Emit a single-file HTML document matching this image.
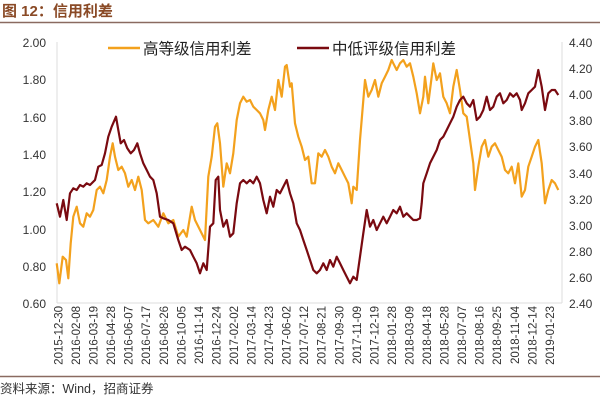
<!DOCTYPE html>
<html><head><meta charset="utf-8"><style>
body{margin:0;width:600px;height:400px;background:#fff;overflow:hidden;font-family:"Liberation Sans","Noto Sans CJK SC",sans-serif;}
</style></head><body>
<svg width="600" height="400" xmlns="http://www.w3.org/2000/svg" font-family="Liberation Sans, Noto Sans CJK SC, sans-serif">
<text x="2" y="16" font-size="15" font-weight="bold" fill="#8a4a26" font-family="Liberation Sans, Noto Sans CJK SC, sans-serif">图 12：信用利差</text>
<line x1="0" y1="22.5" x2="600" y2="22.5" stroke="#8a6a60" stroke-width="1.5"/>
<line x1="57" y1="42" x2="57" y2="303" stroke="#ddd"/>
<line x1="562" y1="42" x2="562" y2="303" stroke="#ddd"/>
<line x1="57" y1="303" x2="562" y2="303" stroke="#ddd"/>
<g font-size="12" fill="#333" text-anchor="end">
<text x="46" y="47">2.00</text><text x="46" y="84">1.80</text><text x="46" y="122">1.60</text><text x="46" y="159">1.40</text><text x="46" y="196">1.20</text><text x="46" y="234">1.00</text><text x="46" y="271">0.80</text><text x="46" y="308">0.60</text>
</g>
<g font-size="12" fill="#333">
<text x="569" y="47">4.40</text><text x="569" y="73">4.20</text><text x="569" y="99">4.00</text><text x="569" y="125">3.80</text><text x="569" y="151">3.60</text><text x="569" y="178">3.40</text><text x="569" y="204">3.20</text><text x="569" y="230">3.00</text><text x="569" y="256">2.80</text><text x="569" y="282">2.60</text><text x="569" y="308">2.40</text>
</g>
<g font-size="11.5" fill="#333" text-anchor="end">
<text transform="translate(62.5,306) rotate(-90)">2015-12-30</text>
<text transform="translate(80,306) rotate(-90)">2016-02-08</text>
<text transform="translate(97.6,306) rotate(-90)">2016-03-19</text>
<text transform="translate(115.1,306) rotate(-90)">2016-04-28</text>
<text transform="translate(132.7,306) rotate(-90)">2016-06-07</text>
<text transform="translate(150.2,306) rotate(-90)">2016-07-17</text>
<text transform="translate(167.8,306) rotate(-90)">2016-08-26</text>
<text transform="translate(185.3,306) rotate(-90)">2016-10-05</text>
<text transform="translate(202.9,306) rotate(-90)">2016-11-14</text>
<text transform="translate(220.4,306) rotate(-90)">2016-12-24</text>
<text transform="translate(238,306) rotate(-90)">2017-02-02</text>
<text transform="translate(255.5,306) rotate(-90)">2017-03-14</text>
<text transform="translate(273.1,306) rotate(-90)">2017-04-23</text>
<text transform="translate(290.6,306) rotate(-90)">2017-06-02</text>
<text transform="translate(308.2,306) rotate(-90)">2017-07-12</text>
<text transform="translate(325.7,306) rotate(-90)">2017-08-21</text>
<text transform="translate(343.3,306) rotate(-90)">2017-09-30</text>
<text transform="translate(360.8,306) rotate(-90)">2017-11-09</text>
<text transform="translate(378.4,306) rotate(-90)">2017-12-19</text>
<text transform="translate(395.9,306) rotate(-90)">2018-01-28</text>
<text transform="translate(413.5,306) rotate(-90)">2018-03-09</text>
<text transform="translate(431,306) rotate(-90)">2018-04-18</text>
<text transform="translate(448.6,306) rotate(-90)">2018-05-28</text>
<text transform="translate(466.1,306) rotate(-90)">2018-07-07</text>
<text transform="translate(483.7,306) rotate(-90)">2018-08-16</text>
<text transform="translate(501.2,306) rotate(-90)">2018-09-25</text>
<text transform="translate(518.8,306) rotate(-90)">2018-11-04</text>
<text transform="translate(536.3,306) rotate(-90)">2018-12-14</text>
<text transform="translate(553.9,306) rotate(-90)">2019-01-23</text>
</g>
<polyline fill="none" stroke="#f3a11d" stroke-width="2.2" stroke-linejoin="round" points="56.7,263.3 59.3,283.3 62.7,256.7 66,260 68.3,278.3 70.7,243.3 73.3,216.7 76.7,206.7 80,223.3 83.3,226.7 86.7,213.3 90,216.7 93.3,210 96.7,190 100,186.7 103.3,193.3 106.7,180 110,156.7 112.7,143.3 115,156.7 118.3,170 121.7,166.7 125,173.3 128.3,186.7 131.7,180 135,190 138.3,176.7 141.7,190 145,220 148.3,223.3 153.3,220 158.3,226.7 163.3,213.3 168.3,223.3 173.3,220 178.3,236.7 183.3,230 186.7,236.7 191.7,206.7 195,220 200,230 205,240 208.3,176.7 211.7,156.7 215,126.7 217.3,123.3 220,143.3 223.3,186.7 226.7,163.3 230,173.3 233.3,153.3 236.7,120 240,103.3 243.3,96.7 246.7,101.7 250,100 253.3,106.7 256.7,110 260,113.3 263.3,120 265,130 268.3,110 271.7,96.7 275,110 278.3,80 281.7,96.7 285,66.7 286.7,65 290,86.7 291.7,83.3 295,123.3 298.3,136.7 301.7,146.7 305,160 308.3,156.7 311.7,183.3 315,183.3 318.3,153.3 321.7,156.7 325,150 328.3,156.7 331.7,166.7 335,173.3 338.3,163.3 341.7,170 345,176.7 348.3,183.3 351.7,203.3 353.3,186.7 356.7,190 360,140 365,80 368.3,96.7 371.7,90 375,80 378.3,96.7 381.7,83.3 385,76.7 388.3,70 391.7,60 393.3,63.3 396.7,70 400,63.3 403.3,60 406.7,66.7 410,63.3 413.3,76.7 416.7,93.3 420,113.3 423.3,96.7 425,76.7 428.3,103.3 431.7,76.7 433.3,63.3 436.7,80 440,73.3 443.3,96.7 446.7,103.3 450,113.3 453.3,86.7 456.7,70 460,90 463.3,113.3 466.7,116.7 470,140 473.3,163.3 475,190 478.3,166.7 481.7,146.7 485,140 488.3,156.7 491.7,146.7 495,143.3 498.3,150 501.7,156.7 505,170 508.3,173.3 511.7,166.7 515,183.3 518.3,163.3 521.7,196.7 525,190 528.3,166.7 531.7,156.7 535,146.7 538.3,140 541.7,163.3 545,203.3 548.3,190 551.7,180 555,183.3 558.3,190"/>
<polyline fill="none" stroke="#7a0a10" stroke-width="2.2" stroke-linejoin="round" points="56.7,203.3 60,216.7 63.3,200 66.7,220 70,193.3 73.3,188.3 76.7,190 80,185 83.3,186.7 86.7,183.3 90,185 95,180 98.3,166.7 101.7,165 105,153.3 108.3,136.7 111.7,126.7 116,116.7 118.3,130 120.7,143.3 124,140 127.3,148.3 130.7,153.3 134,150 137.3,143.3 140,153.3 143.3,163.3 146.7,170 150,176.7 153.3,180 156.7,193.3 160,216.7 163.3,218.3 168.3,220 173.3,223.3 178.3,240 181.7,250 185,246.7 190,250 193.3,256.7 196.7,263.3 200,273.3 203.3,263.3 206.7,270 210,226.7 213.3,223.3 215.7,180 218.3,176.7 220,210 223.3,226.7 226.7,220 230,236.7 233.3,233.3 236.7,203.3 240,183.3 243.3,180 246.7,183.3 250,180 253.3,183.3 256.7,176.7 260,183.3 263.3,200 266.7,213.3 270,196.7 273.3,206.7 276.7,190 280,193.3 283.3,186.7 286.7,180 290,193.3 293.3,203.3 296.7,223.3 300,230 303.3,240 306.7,250 310,260 313.3,270 316.7,273.3 320,270 323.3,263.3 326.7,270 330,260 333.3,266.7 336.7,256.7 340,263.3 343.3,270 346.7,276.7 350,283.3 353.3,276.7 356.7,280 360,256.7 363.3,233.3 366.7,210 370,226.7 373.3,220 376.7,230 380,223.3 383.3,216.7 386.7,223.3 390,216.7 393.3,210 396.7,213.3 400,206.7 403.3,216.7 406.7,213.3 410,216.7 413.3,220 416.7,220 420,218.3 421.7,203.3 423.3,183.3 426.7,173.3 430,163.3 433.3,156.7 436.7,150 440,140 443.3,136.7 446.7,130 450,123.3 453.3,116.7 456.7,106.7 460,100 463.3,96.7 466.7,103.3 470,106.7 473.3,100 476.7,120 480,116.7 483.3,110 486.7,96.7 490,110 493.3,106.7 496.7,96.7 500,93.3 503.3,103.3 506.7,100 510,93.3 513.3,96.7 516.7,93.3 520,100 521.7,110 525,103.3 528.3,93.3 531.7,90 535,86.7 538.3,70 541.7,86.7 545,110 548.3,93.3 551.7,90 555,90 558.3,95"/>
<line x1="108" y1="48" x2="140" y2="48" stroke="#f3a11d" stroke-width="2.5"/>
<text x="143" y="54" font-size="15.5" fill="#222">高等级信用利差</text>
<line x1="297" y1="48" x2="329" y2="48" stroke="#7a0a10" stroke-width="2.5"/>
<text x="332" y="54" font-size="15.5" fill="#222">中低评级信用利差</text>
<line x1="0" y1="376.5" x2="600" y2="376.5" stroke="#8a6a60" stroke-width="1.5"/>
<text x="0" y="393" font-size="12.5" fill="#333">资料来源：Wind，招商证券</text>
</svg>
</body></html>
